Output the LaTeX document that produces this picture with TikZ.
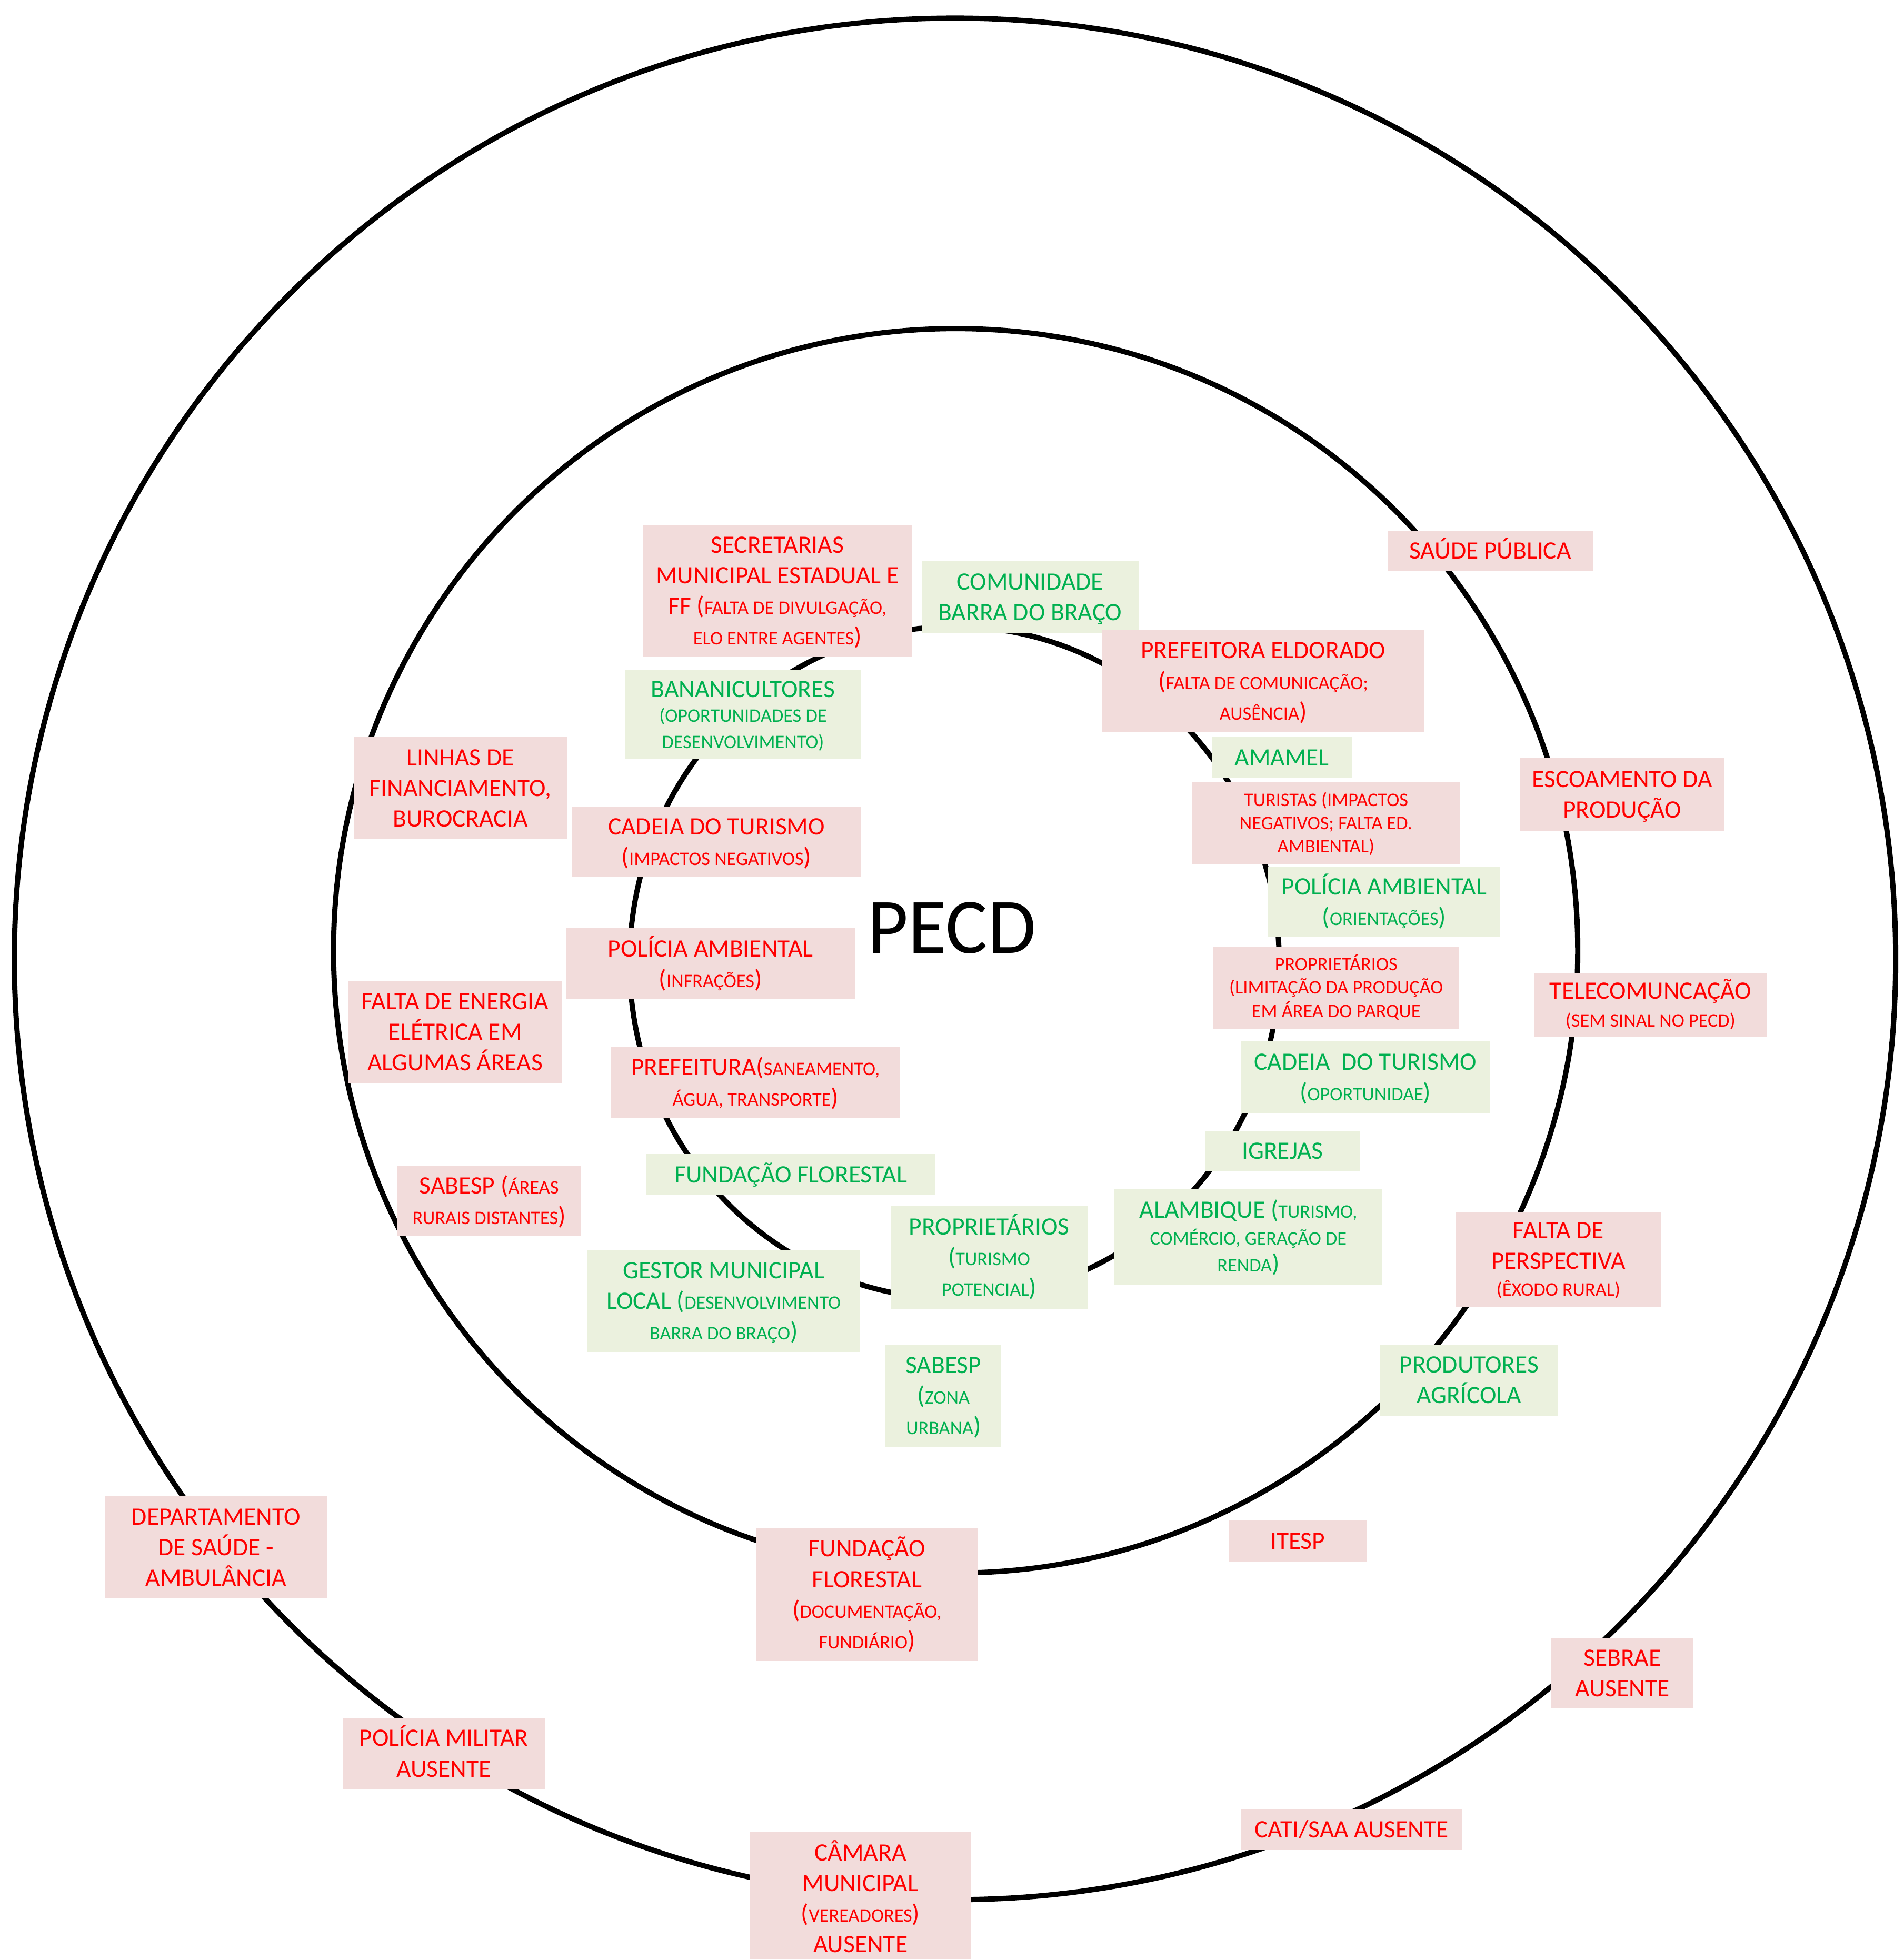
\documentclass[tikz,border=0pt]{standalone}
\usepackage{fontspec}
\setmainfont{Carlito}

\definecolor{pinkfill}{HTML}{F2DCDB}
\definecolor{greenfill}{HTML}{EBF1DE}
\definecolor{redtxt}{HTML}{FF0000}
\definecolor{greentxt}{HTML}{00B050}

% smaller capitals inside a label
\newcommand{\sml}[1]{{\fontsize{15.3}{18.7}\selectfont #1}}

\tikzset{
  ring/.style={line width=4.2pt},
  tagbox/.style={inner sep=0pt, align=flush center, font=\fontsize{20}{24.5}\selectfont,
    execute at begin node={\rule[-0.25em]{0pt}{1.144em}},
    execute at end node={\rule[-0.25em]{0pt}{1.144em}}},
  redbox/.style={tagbox, fill=pinkfill, text=redtxt},
  greenbox/.style={tagbox, fill=greenfill, text=greentxt},
  smalltext/.style={font=\fontsize{15.3}{18.7}\selectfont},
  boxsize/.style 2 args={minimum width=#1pt, minimum height=#2pt, text width=#1pt},
}

\begin{document}
\begin{tikzpicture}[x=1pt,y=-1pt]
  \useasboundingbox (0,0) rectangle (1524,1568);

  % draw circles
  \draw[ring] (764.5,767.5) circle[radius=753pt];
  \draw[ring] (765,761) circle[radius=498pt];
  \draw[ring] (764,770.5) ellipse[x radius=260pt, y radius=269pt];

  % draw centre label
  \node[font=\fontsize{63}{70}\selectfont] (pecd) at (762,742.5) {PECD};

  % draw inner ring nodes
  \node[redbox, boxsize={214.7}{106}] (secretarias) at (622.3,473)
    {SECRETARIAS\\MUNICIPAL ESTADUAL E\\FF (\sml{FALTA DE DIVULGAÇÃO,}\\\sml{ELO ENTRE AGENTES})};
  \node[greenbox, boxsize={173.8}{57.3}] (comunidade) at (824.6,478) {COMUNIDADE\\BARRA DO BRAÇO};
  \node[redbox, boxsize={257.5}{81.5}] (prefeitora) at (1011.2,545.2)
    {PREFEITORA ELDORADO\\(\sml{FALTA DE COMUNICAÇÃO;}\\\sml{AUSÊNCIA})};
  \node[greenbox, boxsize={188.5}{71.2}, font=\fontsize{20}{20}\selectfont] (bananicultores) at (594.8,572.1)
    {BANANICULTORES\\\sml{(OPORTUNIDADES DE}\\\sml{DESENVOLVIMENTO)}};
  \node[redbox, boxsize={231}{56}] (cadeiared) at (573.5,674) {CADEIA DO TURISMO\\(\sml{IMPACTOS NEGATIVOS})};
  \node[greenbox, boxsize={111.5}{33}] (amamel) at (1026.2,606.5) {AMAMEL};
  \node[redbox, smalltext, boxsize={214}{66}] (turistas) at (1061.5,659)
    {TURISTAS (IMPACTOS\\NEGATIVOS; FALTA ED.\\AMBIENTAL)};
  \node[greenbox, boxsize={186}{56.3}] (policiagreen) at (1108,721.9) {POLÍCIA AMBIENTAL\\(\sml{ORIENTAÇÕES})};
  \node[redbox, boxsize={231.4}{57}] (policiared) at (568.7,771.5) {POLÍCIA AMBIENTAL\\(\sml{INFRAÇÕES})};
  \node[redbox, smalltext, boxsize={196.3}{65.7}] (proprred) at (1069.6,790.6)
    {PROPRIETÁRIOS\\(LIMITAÇÃO DA PRODUÇÃO\\EM ÁREA DO PARQUE};
  \node[redbox, boxsize={231.6}{57}] (prefeitura) at (604.8,866.5)
    {PREFEITURA(\sml{SANEAMENTO,}\\\sml{ÁGUA, TRANSPORTE})};
  \node[greenbox, boxsize={200}{57.5}] (cadeiagreen) at (1093,862.2) {CADEIA\ \ DO TURISMO\\(\sml{OPORTUNIDAE})};
  \node[greenbox, boxsize={123.5}{32.6}] (igrejas) at (1026.7,921.3) {IGREJAS};
  \node[greenbox, boxsize={231}{32.8}] (fundacaogreen) at (633,940.1) {FUNDAÇÃO FLORESTAL};
  \node[greenbox, boxsize={157.6}{82}] (proprgreen) at (791.8,1006.5)
    {PROPRIETÁRIOS\\(\sml{TURISMO}\\\sml{POTENCIAL})};
  \node[greenbox, boxsize={214.6}{76}, font=\fontsize{20}{21.5}\selectfont] (alambique) at (999.3,990)
    {ALAMBIQUE (\sml{TURISMO,}\\\sml{COMÉRCIO, GERAÇÃO DE}\\\sml{RENDA})};
  \node[greenbox, boxsize={218.6}{81.5}] (gestor) at (579.3,1041.2)
    {GESTOR MUNICIPAL\\LOCAL (\sml{DESENVOLVIMENTO}\\\sml{BARRA DO BRAÇO})};
  \node[greenbox, boxsize={92.7}{81.3}] (sabespgreen) at (755.3,1117.3) {SABESP\\(\sml{ZONA}\\\sml{URBANA})};

  % draw middle ring nodes
  \node[redbox, boxsize={164}{32.5}] (saude) at (1193,441) {SAÚDE PÚBLICA};
  \node[redbox, boxsize={171}{81.7}] (linhas) at (368.5,630.9) {LINHAS DE\\FINANCIAMENTO,\\BUROCRACIA};
  \node[redbox, boxsize={164}{58}] (escoamento) at (1298.6,636) {ESCOAMENTO DA\\PRODUÇÃO};
  \node[redbox, boxsize={170.7}{81.7}] (energia) at (364.3,825.9) {FALTA DE ENERGIA\\ELÉTRICA EM\\ALGUMAS ÁREAS};
  \node[redbox, boxsize={186.5}{51.4}] (telecom) at (1321.2,804.3)
    {TELECOMUNCAÇÃO\\[-2.5pt]\sml{(SEM SINAL NO PECD)}};
  \node[redbox, boxsize={147}{56.7}] (sabespred) at (391.5,961.1) {SABESP (\sml{ÁREAS}\\\sml{RURAIS DISTANTES})};
  \node[redbox, boxsize={163.7}{75.8}] (perspectiva) at (1247.5,1007.9)
    {FALTA DE\\PERSPECTIVA\\[-3pt]\sml{(ÊXODO RURAL)}};
  \node[greenbox, boxsize={142}{56.9}] (produtores) at (1176,1104.7) {PRODUTORES\\AGRÍCOLA};
  \node[redbox, boxsize={178}{106.6}] (fundacaored) at (694,1276.3)
    {FUNDAÇÃO\\FLORESTAL\\(\sml{DOCUMENTAÇÃO,}\\\sml{FUNDIÁRIO})};
  \node[redbox, boxsize={110.3}{33}] (itesp) at (1038.8,1233.5) {ITESP};

  % draw outer ring nodes
  \node[redbox, boxsize={177.9}{81.5}] (departamento) at (172.9,1238.4) {DEPARTAMENTO\\DE SAÚDE -\\AMBULÂNCIA};
  \node[redbox, boxsize={113.9}{56.6}] (sebrae) at (1298.7,1339.3) {SEBRAE\\AUSENTE};
  \node[redbox, boxsize={162.2}{57}] (policiamilitar) at (355.3,1403.5) {POLÍCIA MILITAR\\AUSENTE};
  \node[redbox, boxsize={177.8}{32.7}] (cati) at (1081.9,1464.6) {CATI/SAA AUSENTE};
  \node[redbox, boxsize={177.6}{105.8}] (camara) at (688.8,1519.5)
    {CÂMARA\\MUNICIPAL\\(\sml{VEREADORES})\\AUSENTE};
\end{tikzpicture}
\end{document}
